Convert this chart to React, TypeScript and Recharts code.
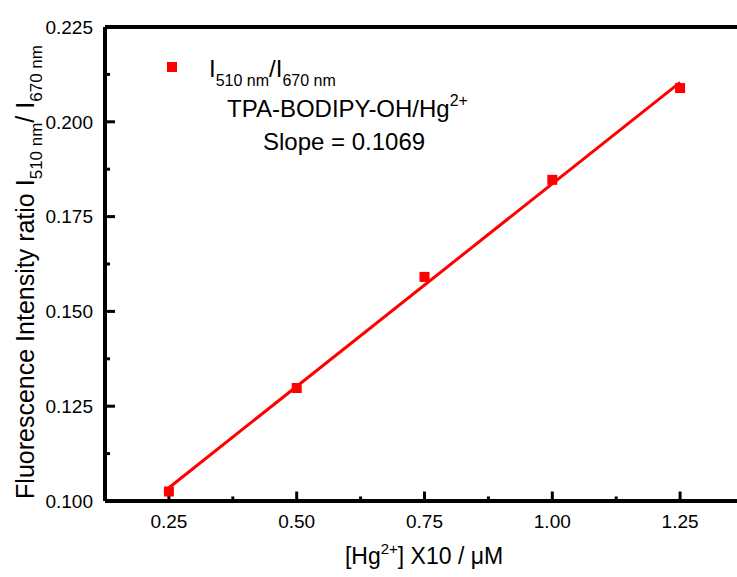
import React from 'react';
import { ScatterChart, Scatter, XAxis, YAxis, ReferenceLine } from 'recharts';

// measured points (ratio I510/I670 vs [Hg2+] x10 / uM)
const concentrations = [0.25, 0.5, 0.75, 1.0, 1.25];
const ratios = [0.1025, 0.1298, 0.1591, 0.1847, 0.2089];

// linear fit end points (slope = 0.1069)
const fitX = [0.25, 1.25];
const fitY = [0.1035, 0.2104];

const xMajor = [0.25, 0.5, 0.75, 1.0, 1.25];
const xMinor = [0.375, 0.625, 0.875, 1.125];
const yMajor = [0.1, 0.125, 0.15, 0.175, 0.2, 0.225];
const yMinor = [0.1125, 0.1375, 0.1625, 0.1875, 0.2125];

const RED = '#ff0000';
const FONT = '"Liberation Sans", Arial, sans-serif';
const xDomain = [0.125, 1.375];
const yDomain = [0.1, 0.225];

// inward tick lengths, in data units (~9-10px major, ~4-5px minor)
const xTickLen = { major: 0.0025, minor: 0.0012 };
const yTickLen = { major: 0.0195, minor: 0.0098 };

const points = concentrations.map((x, i) => ({ x, y: ratios[i] }));
const fit = fitX.map((x, i) => ({ x, y: fitY[i] }));

const tickFont = { fontSize: 19, fill: '#000', fontFamily: FONT };
const axisStroke = { stroke: '#000', strokeWidth: 4 };

const Square = (props: any) => {
  const { cx, cy } = props;
  return <rect x={cx - 5} y={cy - 5} width={10} height={10} fill={RED} />;
};

export default function App() {
  const xTicks = [
    ...xMajor.map((v) => ({ v, len: xTickLen.major })),
    ...xMinor.map((v) => ({ v, len: xTickLen.minor })),
  ];
  const yTicks = [
    ...yMajor.filter((v) => v > yDomain[0]).map((v) => ({ v, len: yTickLen.major })),
    ...yMinor.map((v) => ({ v, len: yTickLen.minor })),
  ];

  return (
    <div style={{ position: 'absolute', left: 0, top: 0, width: 737, height: 577, overflow: 'hidden', background: '#fff' }}>
      <ScatterChart width={760} height={577} margin={{ top: 27, right: 16, left: 0, bottom: 0 }}>
        <XAxis
          type="number"
          dataKey="x"
          domain={xDomain}
          ticks={xMajor}
          height={76}
          tickSize={0}
          tickMargin={14}
          tick={tickFont}
          tickFormatter={(v: number) => v.toFixed(2)}
          tickLine={false}
          axisLine={axisStroke}
        />
        <YAxis
          type="number"
          dataKey="y"
          domain={yDomain}
          ticks={yMajor}
          width={105}
          tickSize={0}
          tickMargin={12}
          tick={tickFont}
          tickFormatter={(v: number) => v.toFixed(3)}
          tickLine={false}
          axisLine={axisStroke}
        />
        <ReferenceLine y={0.225} stroke="#000" strokeWidth={4} />
        <ReferenceLine x={1.375} stroke="#000" strokeWidth={4} />
        {xTicks.map((t) => (
          <ReferenceLine
            key={'xt' + t.v}
            segment={[{ x: t.v, y: yDomain[0] }, { x: t.v, y: yDomain[0] + t.len }]}
            stroke="#000"
            strokeWidth={3}
          />
        ))}
        {yTicks.map((t) => (
          <ReferenceLine
            key={'yt' + t.v}
            segment={[{ x: xDomain[0], y: t.v }, { x: xDomain[0] + t.len, y: t.v }]}
            stroke="#000"
            strokeWidth={3}
          />
        ))}
        <Scatter
          data={fit}
          line={{ stroke: RED, strokeWidth: 3 }}
          shape={() => <g />}
          isAnimationActive={false}
        />
        <Scatter data={points} shape={<Square />} isAnimationActive={false} />
      </ScatterChart>

      <svg
        width={737}
        height={577}
        style={{ position: 'absolute', left: 0, top: 0, pointerEvents: 'none' }}
        fontFamily={FONT}
      >
        {/* legend + notes */}
        <rect x={167} y={62} width={10} height={10} fill={RED} />
        <text x={209} y={77} fontSize={24} fill="#000">
          I<tspan dy={9} fontSize={16}>510 nm</tspan>
          <tspan dy={-9}>/I</tspan>
          <tspan dy={9} fontSize={16}>670 nm</tspan>
        </text>
        <text x={227} y={117} fontSize={24} fill="#000">
          TPA-BODIPY-OH/Hg<tspan dy={-11} fontSize={16}>2+</tspan>
        </text>
        <text x={263} y={150} fontSize={24} fill="#000">
          Slope = 0.1069
        </text>

        {/* axis titles */}
        <text x={424} y={564} fontSize={23} textAnchor="middle" fill="#000">
          [Hg<tspan dy={-10} fontSize={15}>2+</tspan>
          <tspan dy={10}>] X10 / μM</tspan>
        </text>
        <text transform="translate(34,272) rotate(-90)" fontSize={25} textAnchor="middle" fill="#000">
          Fluorescence Intensity ratio I<tspan dy={8} fontSize={17}>510 nm</tspan>
          <tspan dy={-8}>/ I</tspan>
          <tspan dy={8} fontSize={17}>670 nm</tspan>
        </text>
      </svg>
    </div>
  );
}
